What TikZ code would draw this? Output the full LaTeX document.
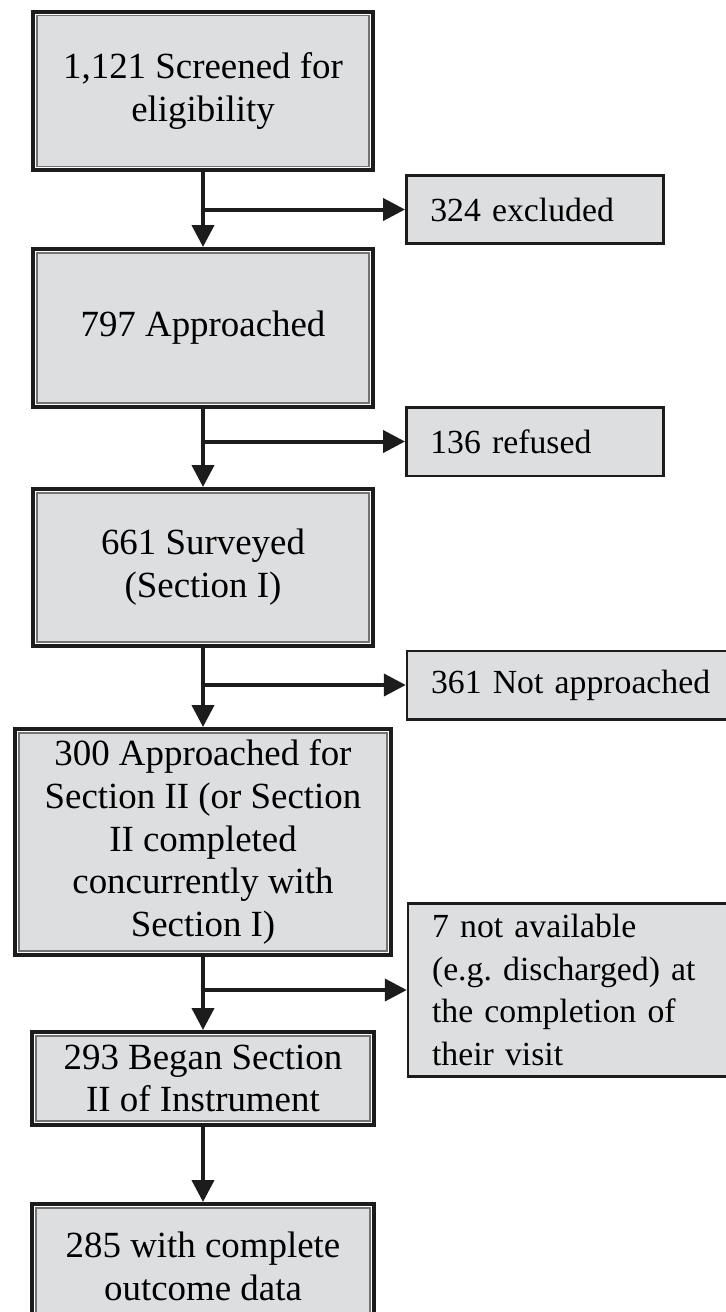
\documentclass[tikz,border=0pt]{standalone}
\usepackage{fontspec}
\setmainfont{Liberation Serif}
\usepackage{xcolor}
\usepackage{tikz}
\usetikzlibrary{arrows.meta}

\definecolor{boxgray}{RGB}{221,222,224}
\definecolor{inkblack}{RGB}{28,28,28}

\tikzset{
    mainbox/.style={draw=inkblack, line width=0.08cm, fill=boxgray, align=center, inner sep=0pt,
        font=\fontsize{21}{24.4}\selectfont,
        path picture={
            \draw[white, line width=0.03cm] ([shift={(0.053cm,-0.053cm)}]path picture bounding box.north west) rectangle ([shift={(-0.053cm,0.053cm)}]path picture bounding box.south east);
            \draw[black!55, line width=0.026cm] ([shift={(0.08cm,-0.08cm)}]path picture bounding box.north west) rectangle ([shift={(-0.08cm,0.08cm)}]path picture bounding box.south east);
        }},
    sidebox/.style={draw=inkblack, line width=0.05cm, fill=boxgray, align=left, inner xsep=0.48cm, inner ysep=0pt,
        font=\fontsize{19.2}{24.4}\selectfont},
    arr/.style={draw=inkblack, line width=0.08cm, -{Triangle[length=0.44cm,width=0.44cm]}}
}

\begin{document}
\begin{tikzpicture}[x=0.02cm, y=-0.02cm]
        \useasboundingbox (0,0) rectangle (726,1312);

        \node[mainbox, minimum width=6.8cm, minimum height=3.18cm] (scr) at (203,91) {1,121 Screened for\\eligibility};
        \node[sidebox, minimum width=5.15cm, minimum height=1.37cm, text width=4.19cm] (excl) at (535,209.5) {324 excluded};
        \node[mainbox, minimum width=6.8cm, minimum height=3.16cm] (appr) at (203,328) {797 Approached};
        \node[sidebox, minimum width=5.15cm, minimum height=1.37cm, text width=4.19cm] (refu) at (535,441.5) {136 refused};
        \node[mainbox, minimum width=6.8cm, minimum height=3.14cm] (surv) at (203,567.5) {661 Surveyed\\(Section I)};
        \node[sidebox, minimum width=7.16cm, minimum height=1.37cm, text width=6.2cm] (nappr) at (586,685) {361 Not approached};
        \node[mainbox, minimum width=7.52cm, minimum height=4.52cm] (sec2) at (203,842) {300 Approached for\\Section II (or Section\\II completed\\concurrently with\\Section I)};
        \node[sidebox, minimum width=7.16cm, minimum height=3.47cm, text width=6.2cm] (navail) at (587,990) {7 not available\\(e.g.\ discharged) at\\the completion of\\their visit};
        \node[mainbox, minimum width=6.84cm, minimum height=1.86cm] (began) at (203,1078.5) {293 Began Section\\II of Instrument};
        \node[mainbox, minimum width=6.84cm, minimum height=2.5cm] (done) at (203,1266.5) {285 with complete\\outcome data};

        \draw[arr] (scr) -- (appr);
        \draw[arr] (scr.south |- excl.west) -- (excl.west);
        \draw[arr] (appr) -- (surv);
        \draw[arr] (appr.south |- refu.west) -- (refu.west);
        \draw[arr] (surv) -- (sec2);
        \draw[arr] (surv.south |- nappr.west) -- (nappr.west);
        \draw[arr] (sec2) -- (began);
        \draw[arr] (sec2.south |- navail.west) -- (navail.west);
        \draw[arr] (began) -- (done);
    \end{tikzpicture}
\end{document}
